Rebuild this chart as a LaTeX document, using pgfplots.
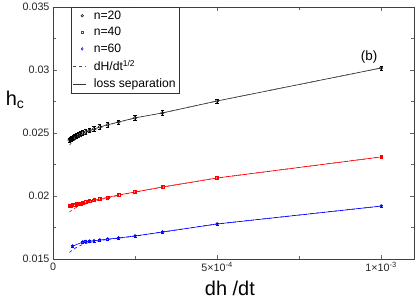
\documentclass[border=0pt]{standalone}
\usepackage{fontspec}
\setmainfont{Liberation Sans}
\usepackage{pgfplots}
\pgfplotsset{compat=1.18}
\pgfplotsset{
  markleg/.style={legend image code/.code={\path[draw=none,fill=none] (0cm,0cm) -- (0.66cm,0cm); \draw[##1, mark size=1.3pt, line width=0.5pt] plot coordinates {(0.32cm,0cm)};}},
  lineleg/.style={legend image code/.code={\path[draw=none,fill=none] (0cm,0cm) -- (0.66cm,0cm); \draw[##1] (0cm,0cm) -- (0.44cm,0cm);}},
}
\begin{document}
\begin{tikzpicture}
\begin{axis}[
  name=ax,
  scale only axis,
  width=361bp, height=252bp,
  xmin=0, xmax=1.1e-3,
  ymin=0.015, ymax=0.035,
  scaled x ticks=false, scaled y ticks=false,
  xtick={0,5e-4,1e-3},
  xticklabels={0,5×10\textsuperscript{-4},1×10\textsuperscript{-3}},
  ytick={0.015,0.02,0.025,0.03,0.035},
  yticklabels={0.015,0.02,0.025,0.03,0.035},
  minor x tick num=1, minor y tick num=1,
  tick align=inside,
  major tick length=4bp, minor tick length=3bp,
  tick style={color=gray!80!black, line width=0.5pt},
  axis line style={color=black!75, line width=0.7pt},
  ticklabel style={font=\fontsize{10.8}{12}\selectfont, color=black!85},
  xlabel={dh /dt},
  ylabel={h\textsubscript{c}},
  xlabel style={font=\fontsize{20}{22}\selectfont, anchor=north, at={(axis description cs:0.49,-0.087)}, inner sep=0pt},
  ylabel style={font=\fontsize{20}{22}\selectfont, rotate=-90, anchor=center, at={(axis description cs:-0.105,0.63)}, inner sep=0pt},
  legend style={at={(axis description cs:0.05,1)}, anchor=north west,
    font=\fontsize{12.2}{14}\selectfont, draw=black!80, line width=0.6pt,
    row sep=2.6bp, inner sep=1.5pt, cells={anchor=west}},
  legend cell align=left,
  lineleg,
  clip=false,
]
% markers with error bars
\addplot[only marks, black, mark=o, mark size=1.7pt, line width=0.4pt, markleg,
  error bars/.cd, y dir=both, y explicit, error bar style={line width=0.4pt}, error mark options={rotate=90, mark size=1.6pt}]
coordinates {
(1e-3,0.03016) +- (0,0.00018)
(5e-4,0.02754) +- (0,0.00018)
(3.333e-4,0.02659) +- (0,0.00018)
(2.5e-4,0.02620) +- (0,0.00018)
(2e-4,0.02587) +- (0,0.00018)
(1.667e-4,0.02566) +- (0,0.00018)
(1.429e-4,0.02549) +- (0,0.00018)
(1.25e-4,0.02533) +- (0,0.00018)
(1.111e-4,0.02521) +- (0,0.00018)
(1e-4,0.02510) +- (0,0.00018)
(9.09e-5,0.02501) +- (0,0.00018)
(8.33e-5,0.02493) +- (0,0.00018)
(7.69e-5,0.02485) +- (0,0.00018)
(7.14e-5,0.02478) +- (0,0.00018)
(6.67e-5,0.02471) +- (0,0.00018)
(6.25e-5,0.02465) +- (0,0.00018)
(5.88e-5,0.02459) +- (0,0.00018)
(5.56e-5,0.02454) +- (0,0.00018)
(5.26e-5,0.02449) +- (0,0.00018)
(5e-5,0.02444) +- (0,0.00018)
};
\addlegendentry{n=20}
\addplot[only marks, red, mark=square, mark size=1.4pt, line width=0.4pt, markleg,
  error bars/.cd, y dir=both, y explicit, error bar style={line width=0.4pt}, error mark options={rotate=90, mark size=1.5pt}]
coordinates {
(1e-3,0.02310) +- (0,0.00012)
(5e-4,0.02143) +- (0,0.00012)
(3.333e-4,0.02071) +- (0,0.00012)
(2.5e-4,0.02032) +- (0,0.00012)
(2e-4,0.02008) +- (0,0.00012)
(1.667e-4,0.01990) +- (0,0.00012)
(1.429e-4,0.01978) +- (0,0.00012)
(1.25e-4,0.01967) +- (0,0.00012)
(1.111e-4,0.01959) +- (0,0.00012)
(1e-4,0.01952) +- (0,0.00012)
(9.09e-5,0.01947) +- (0,0.00012)
(8.33e-5,0.01942) +- (0,0.00012)
(7.69e-5,0.01938) +- (0,0.00012)
(7.14e-5,0.01935) +- (0,0.00012)
(6.67e-5,0.01932) +- (0,0.00012)
(6.25e-5,0.01930) +- (0,0.00012)
(5.88e-5,0.01928) +- (0,0.00012)
(5.56e-5,0.01926) +- (0,0.00012)
(5.26e-5,0.01924) +- (0,0.00012)
(5e-5,0.01922) +- (0,0.00012)
};
\addlegendentry{n=40}
\addplot[only marks, blue, mark=diamond, mark size=1.7pt, line width=0.4pt, markleg,
  error bars/.cd, y dir=both, y explicit, error bar style={line width=0.4pt}, error mark options={rotate=90, mark size=1.5pt}]
coordinates {
(1e-3,0.01920) +- (0,0.00008)
(5e-4,0.01778) +- (0,0.00008)
(3.333e-4,0.01714) +- (0,0.00008)
(2.5e-4,0.01683) +- (0,0.00008)
(2e-4,0.01667) +- (0,0.00008)
(1.667e-4,0.01658) +- (0,0.00008)
(1.429e-4,0.01651) +- (0,0.00008)
(1.25e-4,0.01645) +- (0,0.00008)
(1.111e-4,0.01641) +- (0,0.00008)
(1e-4,0.01638) +- (0,0.00008)
(9.09e-5,0.01635) +- (0,0.00008)
(6e-5,0.01602) +- (0,0.00008)
};
\addlegendentry{n=60}
\addlegendimage{dashed, black!70, line width=0.6pt}
\addlegendentry{dH/dt\textsuperscript{1/2}}
\addlegendimage{solid, black!80, line width=0.6pt}
\addlegendentry{loss separation}
% loss separation (solid)
\addplot[forget plot, black!85, line width=0.6pt] coordinates {
(5e-5,0.02444) (5.56e-5,0.02454) (6.25e-5,0.02465) (7.14e-5,0.02478) (8.33e-5,0.02493) (1e-4,0.02510) (1.25e-4,0.02533) (1.667e-4,0.02566) (2e-4,0.02587) (2.5e-4,0.02620) (3.333e-4,0.02659) (5e-4,0.02754) (1e-3,0.03016)};
\addplot[forget plot, red, line width=0.6pt] coordinates {
(5e-5,0.01922) (5.56e-5,0.01926) (6.25e-5,0.01930) (7.14e-5,0.01935) (8.33e-5,0.01942) (1e-4,0.01952) (1.25e-4,0.01967) (1.667e-4,0.01990) (2e-4,0.02008) (2.5e-4,0.02032) (3.333e-4,0.02071) (5e-4,0.02143) (1e-3,0.02310)};
\addplot[forget plot, blue, line width=0.6pt] coordinates {
(6e-5,0.01602) (9.09e-5,0.01635) (1e-4,0.01638) (1.25e-4,0.01645) (1.667e-4,0.01658) (2e-4,0.01667) (2.5e-4,0.01683) (3.333e-4,0.01714) (5e-4,0.01778) (1e-3,0.01920)};
% dH/dt^{1/2} (dashed)
\addplot[forget plot, dashed, black!70, line width=0.6pt] coordinates {
(5e-5,0.02404) (6e-5,0.02430) (7e-5,0.02450) (8e-5,0.02468) (1e-4,0.02496) (1.25e-4,0.02525) (1.667e-4,0.02562) (2e-4,0.02585) (2.5e-4,0.02619) (3.333e-4,0.02659) (5e-4,0.02754) (1e-3,0.03016)};
\addplot[forget plot, dashed, red, line width=0.6pt] coordinates {
(5e-5,0.01872) (6e-5,0.01893) (7e-5,0.01908) (8e-5,0.01920) (1e-4,0.01937) (1.25e-4,0.01958) (1.667e-4,0.01985) (2e-4,0.02005) (2.5e-4,0.02031) (3.333e-4,0.02071) (5e-4,0.02143) (1e-3,0.02310)};
\addplot[forget plot, dashed, blue, line width=0.6pt] coordinates {
(5e-5,0.01553) (6e-5,0.01572) (7e-5,0.01590) (9e-5,0.01615) (1.1e-4,0.01631) (1.43e-4,0.01647) (2e-4,0.01665) (2.5e-4,0.01682) (3.333e-4,0.01714) (5e-4,0.01778) (1e-3,0.01920)};
\node[font=\fontsize{13.5}{15}\selectfont] at (axis cs:9.63e-4,0.03105) {(b)};
\end{axis}
\pgfresetboundingbox
\path ([xshift=-53bp,yshift=-41bp]ax.south west) rectangle ([xshift=2bp,yshift=7bp]ax.north east);
\end{tikzpicture}
\end{document}
